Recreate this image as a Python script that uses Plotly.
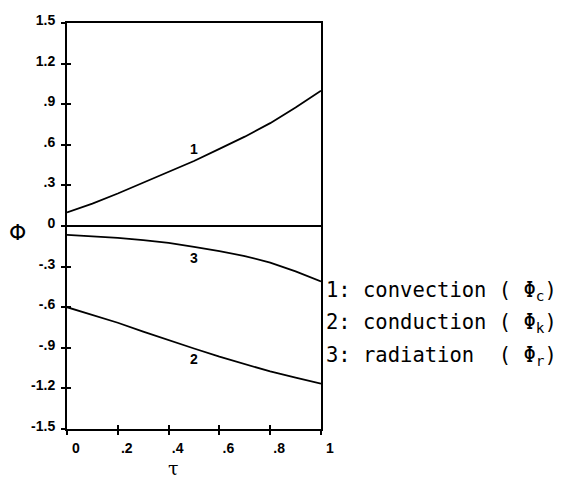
import plotly.graph_objects as go

tau = [0.0, 0.1, 0.2, 0.3, 0.4, 0.5, 0.6, 0.7, 0.8, 0.9, 1.0]
phi_convection = [0.10, 0.165, 0.24, 0.32, 0.40, 0.48, 0.57, 0.66, 0.76, 0.875, 1.00]
phi_conduction = [-0.60, -0.655, -0.715, -0.78, -0.845, -0.905, -0.965, -1.02, -1.075, -1.12, -1.165]
phi_radiation = [-0.066, -0.075, -0.088, -0.104, -0.125, -0.155, -0.185, -0.222, -0.27, -0.335, -0.41]

curve_labels = ["1", "2", "3"]
curve_label_x = [0.5, 0.5, 0.5]
curve_label_y = [0.57, -0.98, -0.235]

legend_lines = ["1: convection ( Φ<sub>c</sub>)",
                "2: conduction ( Φ<sub>k</sub>)",
                "3: radiation  ( Φ<sub>r</sub>)"]

x_tickvals = [0, 0.2, 0.4, 0.6, 0.8, 1.0]
x_ticktext = ["0", ".2", ".4", ".6", ".8", "1"]
y_tickvals = [1.5, 1.2, 0.9, 0.6, 0.3, 0, -0.3, -0.6, -0.9, -1.2, -1.5]
y_ticktext = ["1.5", "1.2", ".9", ".6", ".3", "0", "-.3", "-.6", "-.9", "-1.2", "-1.5"]


def bold(labels):
    return ["<b>" + s + "</b>" for s in labels]


fig = go.Figure()
line = dict(color="black", width=1.8)
for ys in (phi_convection, phi_conduction, phi_radiation):
    fig.add_trace(go.Scatter(x=tau, y=ys, mode="lines", line=line,
                             showlegend=False, hoverinfo="skip"))
# invisible trace for overlay axes (tick crosses)
fig.add_trace(go.Scatter(x=[0], y=[0], xaxis="x2", yaxis="y2", mode="markers",
                         marker=dict(opacity=0), showlegend=False, hoverinfo="skip"))

tickfont = dict(family="Liberation Sans Narrow, Liberation Sans", size=14, color="black")
fig.update_layout(
    width=567, height=479,
    margin=dict(l=67, r=246, t=20, b=50),
    paper_bgcolor="white", plot_bgcolor="white",
    xaxis=dict(range=[0, 1], tickvals=x_tickvals, ticktext=bold(x_ticktext),
               ticks="outside", ticklen=4, tickwidth=1.5, tickcolor="black",
               showline=True, linecolor="black", linewidth=1.8, mirror=True,
               showgrid=False, zeroline=False, tickfont=tickfont,
               ticklabelshift=9, ticklabelstandoff=1),
    yaxis=dict(range=[-1.5, 1.5], tickvals=y_tickvals, ticktext=bold(y_ticktext),
               ticks="outside", ticklen=4, tickwidth=1.5, tickcolor="black",
               showline=True, linecolor="black", linewidth=2, mirror=True,
               showgrid=False, zeroline=True, zerolinecolor="black", zerolinewidth=1.6,
               tickfont=tickfont, ticklabelstandoff=3, ticklabelshift=-3),
    xaxis2=dict(range=[0, 1], overlaying="x", anchor="y2", side="bottom",
                tickvals=x_tickvals, showticklabels=False, ticks="inside", ticklen=4,
                tickwidth=1.5, tickcolor="black", showgrid=False, zeroline=False,
                showline=False),
    yaxis2=dict(range=[-1.5, 1.5], overlaying="y", anchor="x2", side="left",
                tickvals=y_tickvals, showticklabels=False, ticks="inside", ticklen=4,
                tickwidth=1.5, tickcolor="black", showgrid=False, zeroline=False,
                showline=False),
)

for t, lx, ly in zip(curve_labels, curve_label_x, curve_label_y):
    fig.add_annotation(x=lx, y=ly, text="<b>" + t + "</b>", showarrow=False,
                       font=dict(family="Liberation Sans Narrow, Liberation Sans", size=14, color="black"))

legend_y = [0.34, 0.262, 0.181]
for txt, yy in zip(legend_lines, legend_y):
    fig.add_annotation(xref="paper", yref="paper", x=1.012, y=yy, text=txt,
                       xanchor="left", yanchor="middle", showarrow=False,
                       font=dict(family="DejaVu Sans Mono", size=20.5, color="black"))

fig.add_annotation(xref="paper", yref="paper", x=-0.196, y=0.484, text="Φ",
                   showarrow=False, xanchor="center", yanchor="middle",
                   font=dict(family="DejaVu Sans", size=22, color="black"))
fig.add_annotation(xref="paper", yref="paper", x=0.42, y=-0.095, text="τ",
                   showarrow=False, xanchor="center", yanchor="middle",
                   font=dict(family="DejaVu Serif", size=19, color="black"))

fig.write_html("out.html")
